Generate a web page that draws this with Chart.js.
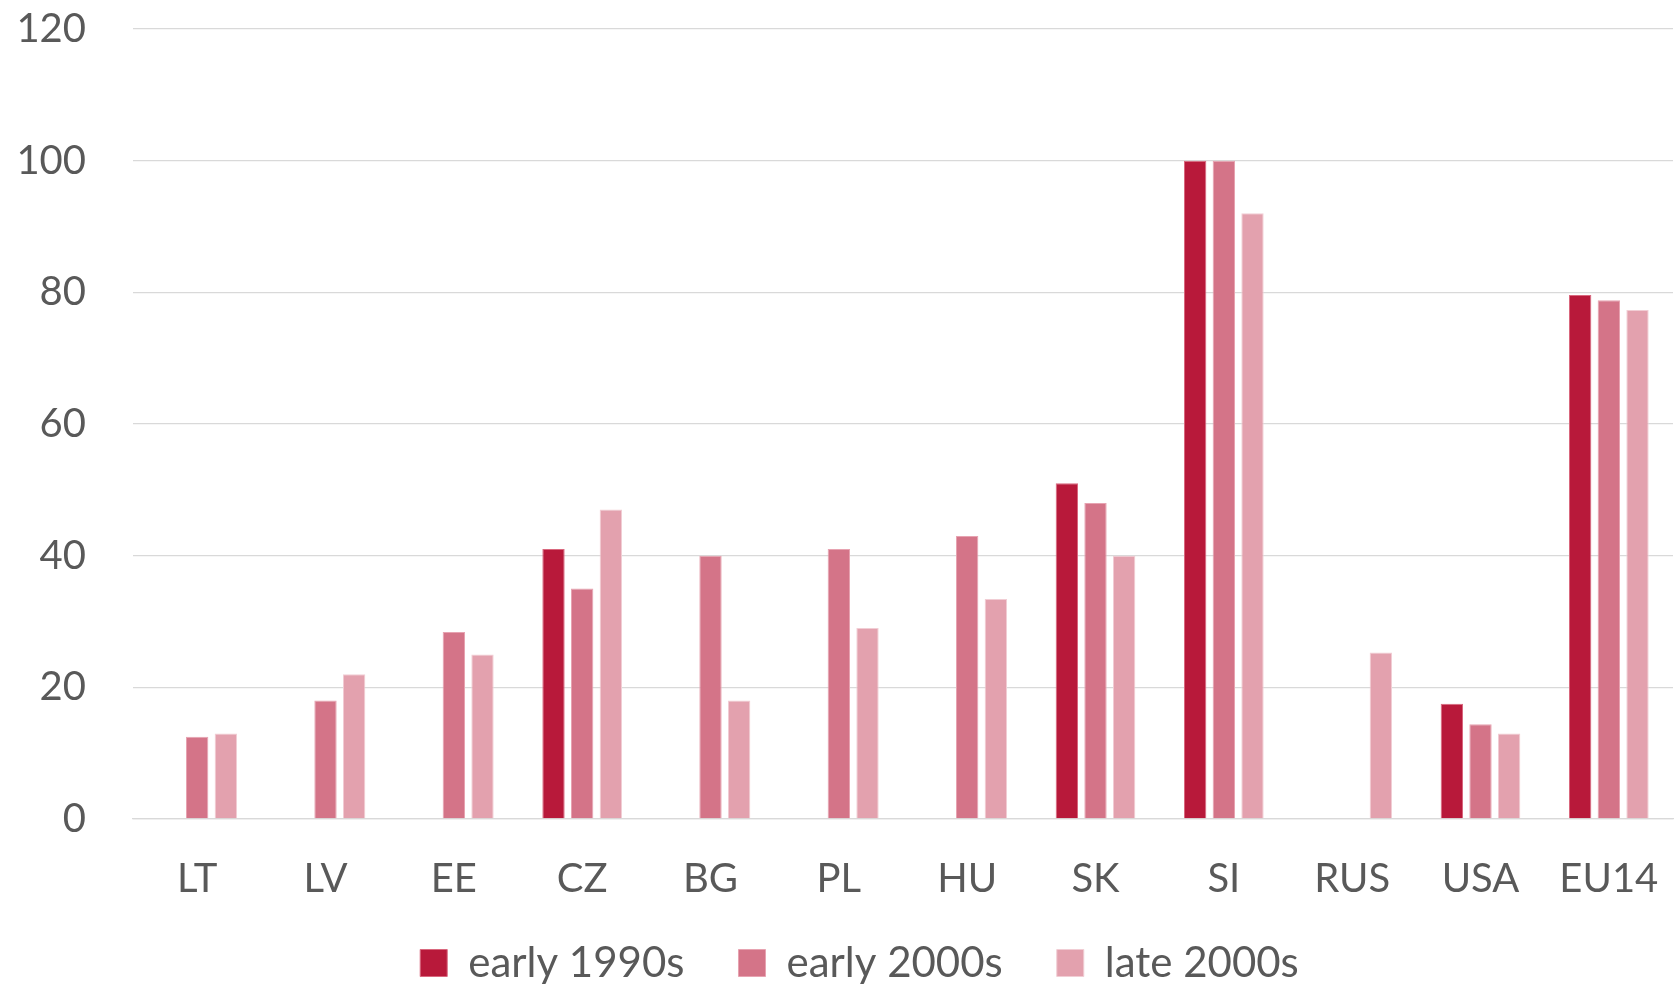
<!DOCTYPE html>
<html>
<head>
<meta charset="utf-8">
<script src="https://cdn.jsdelivr.net/npm/chart.js@4/dist/chart.umd.min.js"></script>
<style>
  html, body { margin: 0; padding: 0; background: #ffffff; }
  #wrap { width: 1678px; height: 987px; position: relative; }
</style>
</head>
<body>
<div id="wrap"><canvas id="chart"></canvas></div>
<script>
// Countries / groups on the category axis
const categories = ['LT', 'LV', 'EE', 'CZ', 'BG', 'PL', 'HU', 'SK', 'SI', 'RUS', 'USA', 'EU14'];

// Series values (null = no observation for that period)
const early1990s = [null, null, null, 41, null, null, null, 51, 100, null, 17.5, 79.6];
const early2000s = [12.5, 18, 28.4, 35, 40, 41, 43, 48, 100, null, 14.4, 78.8];
const late2000s  = [13, 22, 25, 47, 18, 29, 33.4, 40, 92, 25.3, 13, 77.3];

const seriesNames = ['early 1990s', 'early 2000s', 'late 2000s'];
const yTicks = [0, 20, 40, 60, 80, 100, 120];

const colors = ['#B8193A', '#D47488', '#E3A1AE'];
const edgeColors = ['#D9687E', '#E7A3B1', '#F1CDD4'];
const textColor = '#595959';
const fontFamily = 'Lato, "Open Sans", sans-serif';

const seriesData = [early1990s, early2000s, late2000s];

// Moves the bottom legend slightly right of centre and up towards the axis labels
const legendShift = {
  id: 'legendShift',
  afterLayout(chart) {
    const lg = chart.legend;
    if (!lg) return;
    lg.left += 23; lg.right += 23;
    lg.top -= 21; lg.bottom -= 21;
  }
};

const ctx = document.getElementById('chart');
new Chart(ctx, {
  type: 'bar',
  data: {
    labels: categories,
    datasets: seriesData.map((d, i) => ({
      label: seriesNames[i],
      data: d,
      backgroundColor: colors[i],
      borderColor: edgeColors[i],
      borderWidth: 1,
      borderSkipped: 'bottom',
      categoryPercentage: 0.67,
      barPercentage: 0.78
    }))
  },
  plugins: [legendShift],
  options: {
    responsive: true,
    maintainAspectRatio: false,
    animation: false,
    layout: { padding: { top: 29, left: 0, right: 5, bottom: -28 } },
    plugins: {
      tooltip: { enabled: false },
      legend: {
        position: 'bottom',
        labels: {
          color: textColor,
          font: { family: fontFamily, size: 42 },
          boxWidth: 27,
          boxHeight: 27,
          padding: 54
        }
      }
    },
    scales: {
      x: {
        grid: { display: false, drawTicks: false },
        border: { display: true, color: '#D9D9D9', width: 1.3 },
        ticks: {
          color: textColor,
          font: { family: fontFamily, size: 40 },
          padding: 36,
          maxRotation: 0
        },
        afterFit: s => { s.height = 90; s.paddingLeft = 0; s.paddingRight = 0; }
      },
      y: {
        min: 0,
        max: 120,
        afterBuildTicks: s => { s.ticks = yTicks.map(v => ({ value: v })); },
        grid: { color: '#D9D9D9', lineWidth: 1.3, drawTicks: false },
        border: { display: false },
        ticks: {
          color: textColor,
          font: { family: fontFamily, size: 40 },
          padding: 47
        },
        afterFit: s => { s.width = 133; s.paddingTop = 0; s.paddingBottom = 0; }
      }
    }
  }
});
</script>
</body>
</html>
